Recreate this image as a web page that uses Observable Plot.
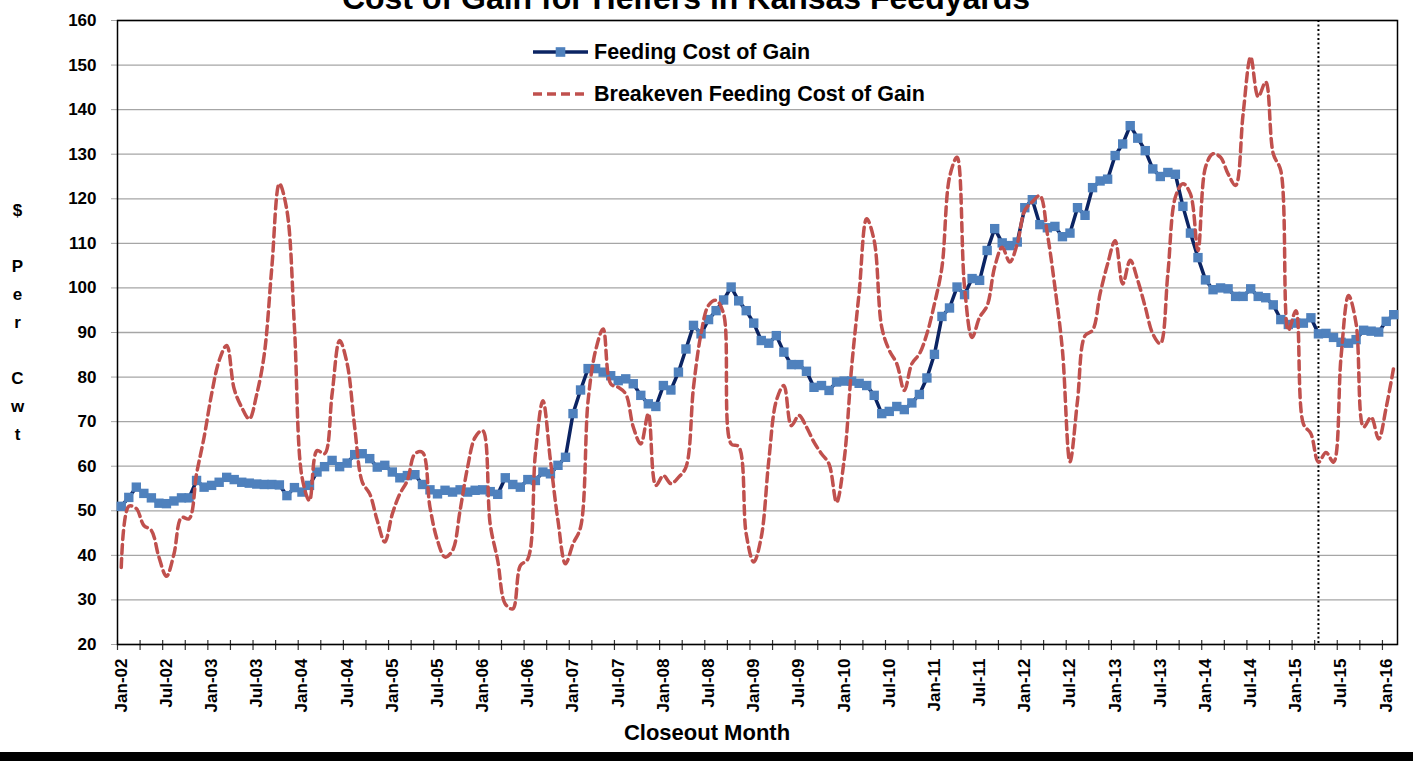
<!DOCTYPE html>
<html>
<head>
<meta charset="utf-8">
<script src="https://cdn.jsdelivr.net/npm/d3@7"></script>
<script src="https://cdn.jsdelivr.net/npm/@observablehq/plot@0.6"></script>
<style>
  body { margin: 0; background: #fff; }
  #wrap { position: relative; width: 1413px; height: 761px; overflow: hidden; background: #fff;
          font-family: "Liberation Sans", Arial, sans-serif; font-weight: bold; color: #000; }
  #title { position: absolute; left: 686px; top: -18px; transform: translateX(-50%); white-space: nowrap;
           font-size: 32px; line-height: 32px; }
  #legend { position: absolute; left: 533px; top: 42px; font-size: 21.5px; }
  .row { display: flex; align-items: center; height: 20px; margin-bottom: 22px; }
  .row svg { margin-right: 6px; }
  #ylab { position: absolute; left: 10.5px; top: 197px; width: 14px; text-align: center; font-size: 17px; line-height: 28px; }
  #xlab { position: absolute; left: 707px; top: 721px; transform: translateX(-50%); font-size: 22px; line-height: 24px; white-space: nowrap; }
  #bar { position: absolute; left: 0; top: 752px; width: 1413px; height: 9px; background: #000; }
  #chart { position: absolute; left: 0; top: 0; }
</style>
</head>
<body>
<div id="wrap">
  <div id="chart"></div>
  <div id="title"></div>
  <div id="legend"></div>
  <div id="ylab"></div>
  <div id="xlab"></div>
  <div id="bar"></div>
</div>
<script>
// ---------- data ----------
const titleText = "Cost of Gain for Heifers in Kansas Feedyards";
const seriesNames = ["Feeding Cost of Gain", "Breakeven Feeding Cost of Gain"];
const yAxisLabel = ["$", "", "P", "e", "r", "", "C", "w", "t"];
const xAxisLabel = "Closeout Month";
const startYear = 2002;
const monthNames = ["Jan","Feb","Mar","Apr","May","Jun","Jul","Aug","Sep","Oct","Nov","Dec"];

// Feeding Cost of Gain ($/cwt), monthly Jan-02 .. Feb-16
const feedingCost = [
  51.0,53.0,55.3,53.9,52.9,51.7,51.6,52.2,52.9,52.9,
  56.8,55.3,55.7,56.4,57.5,57.0,56.4,56.2,56.0,55.9,
  55.9,55.8,53.4,55.2,54.2,55.7,58.7,59.9,61.3,59.9,
  60.7,62.6,62.8,61.7,59.8,60.2,58.7,57.4,57.9,58.1,
  55.9,54.7,53.8,54.6,54.2,54.7,54.2,54.6,54.7,54.3,
  53.7,57.4,55.9,55.3,57.0,56.8,58.7,58.3,60.2,62.0,
  71.8,77.1,81.9,81.9,81.1,80.3,79.2,79.6,78.5,75.9,
  74.0,73.4,78.1,77.1,81.1,86.3,91.6,89.7,92.9,94.9,
  97.3,100.2,97.1,94.9,92.1,88.2,87.6,89.3,85.6,82.8,
  82.8,81.3,77.7,78.1,77.0,78.9,79.1,79.1,78.6,78.1,
  75.9,71.8,72.3,73.4,72.7,74.2,76.1,79.8,85.1,93.6,
  95.5,100.2,98.5,102.1,101.7,108.4,113.3,110.1,109.5,110.3,
  118.0,119.8,114.2,113.5,113.8,111.5,112.3,118.0,116.3,122.5,
  124.0,124.4,129.7,132.3,136.4,133.6,130.8,126.7,125.0,125.9,
  125.5,118.3,112.3,106.8,101.8,99.6,100.0,99.8,98.1,98.1,
  99.8,98.1,97.8,96.2,92.9,91.8,92.1,92.1,93.3,89.7,
  89.8,88.9,87.8,87.6,88.4,90.5,90.3,90.1,92.5,94.0
];

// Breakeven Feeding Cost of Gain ($/cwt), monthly Jan-02 .. Feb-16
const breakeven = [
  37.3,51.0,50.5,46.7,45.6,39.6,35.3,40.3,48.5,48.2,
  58.3,66.5,76.2,83.7,87.1,77.3,73.2,70.6,76.2,85.2,
  104.7,123.4,117.4,91.2,57.6,52.3,63.5,62.8,76.2,88.2,
  83.0,68.8,56.5,53.8,47.8,43.0,49.3,53.8,56.8,62.8,
  63.1,50.8,43.3,39.6,41.1,50.1,59.8,66.5,68.0,47.0,
  38.8,29.1,28.0,37.7,39.2,62.8,74.7,61.3,47.8,38.1,
  42.6,46.3,74.7,86.0,90.8,78.5,77.7,76.2,68.8,65.0,
  71.8,55.7,57.9,56.1,57.5,59.8,77.7,89.7,96.1,97.2,
  94.2,65.0,64.4,44.8,38.5,44.1,61.3,74.7,78.1,69.1,
  71.4,68.8,65.4,62.8,60.5,51.9,61.3,82.2,99.0,115.5,
  110.6,91.2,86.0,83.0,77.0,83.0,85.2,89.7,96.4,104.7,
  124.8,129.3,100.2,88.9,93.4,96.0,104.7,109.1,105.8,109.9,
  117.4,119.3,120.7,112.1,100.2,86.0,61.0,74.7,89.3,90.5,
  98.7,105.4,110.6,100.9,106.2,101.7,95.7,89.7,87.5,103.2,
  120.4,123.4,121.1,108.4,127.1,130.1,129.3,125.6,123.0,139.1,
  151.8,142.9,146.2,130.1,126.3,90.5,94.9,69.5,67.3,60.9,
  63.1,60.9,84.5,98.3,92.0,68.8,71.0,66.1,73.2,82.2
];

const xTickLabels = ["Jan-02","Jul-02","Jan-03","Jul-03","Jan-04","Jul-04","Jan-05","Jul-05",
  "Jan-06","Jul-06","Jan-07","Jul-07","Jan-08","Jul-08","Jan-09","Jul-09","Jan-10","Jul-10",
  "Jan-11","Jul-11","Jan-12","Jul-12","Jan-13","Jul-13","Jan-14","Jul-14","Jan-15","Jul-15","Jan-16"];
const yTickValues = [20,30,40,50,60,70,80,90,100,110,120,130,140,150,160];
const dividerMonth = "Apr-15";

// ---------- build ----------
const months = feedingCost.map((_, i) =>
  monthNames[i % 12] + "-" + String((startYear + Math.floor(i / 12)) % 100).padStart(2, "0"));
const data = months.map((m, i) => ({ i, month: m, cost: feedingCost[i], breakeven: breakeven[i] }));
const pos = (m) => months.indexOf(m) + 0.5;      // category centre
const xBoundaries = d3.range(0, months.length, 3); // tick marks between categories
const yMin = yTickValues[0], yMax = yTickValues[yTickValues.length - 1];

const navy = "#0b2463", blue = "#4f81bd", red = "#c0504d";

const chart = Plot.plot({
  width: 1413, height: 761,
  marginLeft: 117, marginRight: 16, marginTop: 20, marginBottom: 117,
  x: { domain: [0, months.length], axis: null },
  y: { domain: [yMin, yMax] },
  style: { fontFamily: '"Liberation Sans", Arial, sans-serif', fontSize: "17px", fontWeight: "bold", color: "#000", background: "#fff" },
  marks: [
    Plot.gridY({ ticks: yTickValues, stroke: "#a6a6a6", strokeOpacity: 1, strokeWidth: 1.3 }),
    Plot.axisY({ ticks: yTickValues, tickSize: 6, tickPadding: 15, stroke: "#a6a6a6", fill: "#000",
                 fontSize: 17, fontWeight: "bold", label: null }),
    Plot.ruleX(xBoundaries, { x: d => d, y1: yMin, y2: yMin, insetTop: -4, insetBottom: -6, stroke: "#333", strokeWidth: 1.2 }),
    Plot.text(xTickLabels, { x: pos, y: yMin, text: d => d, rotate: -90, textAnchor: "end", lineAnchor: "middle",
                 dy: 14, fontSize: 17, fontWeight: "bold", fill: "#000" }),
    Plot.frame({ stroke: "#000", strokeWidth: 1.5 }),
    Plot.ruleX([dividerMonth], { x: pos, stroke: "#000", strokeWidth: 2, strokeDasharray: "2,2.5" }),
    Plot.line(data, { x: d => d.i + 0.5, y: "cost", stroke: navy, strokeWidth: 3.5 }),
    Plot.dot(data, { x: d => d.i + 0.5, y: "cost", symbol: "square", r: 5.3, fill: blue, stroke: null }),
    Plot.line(data, { x: d => d.i + 0.5, y: "breakeven", curve: "catmull-rom", stroke: red, strokeWidth: 3.5,
                      strokeDasharray: "9,5" })
  ]
});
document.getElementById("chart").appendChild(chart);

document.getElementById("title").textContent = titleText;
document.getElementById("xlab").textContent = xAxisLabel;
document.getElementById("ylab").innerHTML = yAxisLabel.map(c => c === "" ? "&nbsp;" : c).join("<br>");

const legend = document.getElementById("legend");
legend.innerHTML =
  `<div class="row"><svg width="55" height="20"><line x1="0" y1="10" x2="55" y2="10" stroke="${navy}" stroke-width="3.5"/>` +
  `<rect x="22.7" y="5.2" width="9.6" height="9.6" fill="${blue}"/></svg><span>${seriesNames[0]}</span></div>` +
  `<div class="row"><svg width="55" height="20"><line x1="0" y1="10" x2="55" y2="10" stroke="${red}" stroke-width="3.5" stroke-dasharray="9,5"/></svg>` +
  `<span>${seriesNames[1]}</span></div>`;
</script>
</body>
</html>
